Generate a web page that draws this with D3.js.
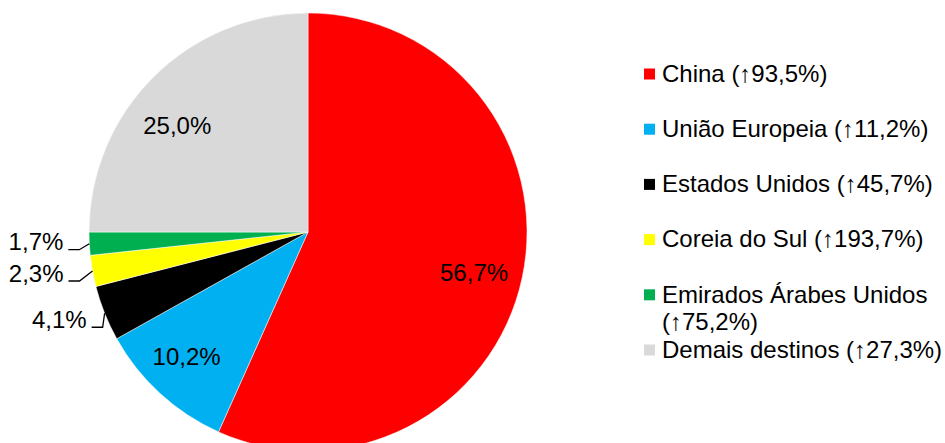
<!DOCTYPE html>
<html>
<head>
<meta charset="utf-8">
<script src="https://cdn.jsdelivr.net/npm/d3@7"></script>
<style>
  html, body { margin: 0; padding: 0; background: #fff; }
  svg { display: block; }
  text { font-family: "Liberation Sans", Arial, sans-serif; fill: #000; }
</style>
</head>
<body>
<svg id="chart" width="945" height="443"></svg>
<script>
// ---- data ----
const categories = ["China", "União Europeia", "Estados Unidos", "Coreia do Sul", "Emirados Árabes Unidos", "Demais destinos"];
const shares = [56.7, 10.2, 4.1, 2.3, 1.7, 25.0];
const shareLabels = ["56,7%", "10,2%", "4,1%", "2,3%", "1,7%", "25,0%"];
const growthLabels = ["↑93,5%", "↑11,2%", "↑45,7%", "↑193,7%", "↑75,2%", "↑27,3%"];
const colors = ["#FF0000", "#00B0F0", "#000000", "#FFFF00", "#00B050", "#D9D9D9"];

// ---- layout ----
const W = 945, H = 443;
const cx = 308, cy = 232, R = 219;
const fontSize = 24;
const labelLayout = [
  { type: "in", k: 0.78, dx: -1, dy: 5 },
  { type: "in", k: 0.78, dx: -6, dy: -1 },
  { type: "out", tx: -18, ty: 6 },
  { type: "out", tx: -29, ty: 2 },
  { type: "out", tx: -26, ty: -2 },
  { type: "in", k: 0.78, dx: -10, dy: 14 }
];

const svg = d3.select("#chart");
const g = svg.append("g").attr("transform", `translate(${cx},${cy})`);

const data = categories.map((c, i) => ({ name: c, value: shares[i], label: shareLabels[i], growth: growthLabels[i], color: colors[i], i }));

const pie = d3.pie().sort(null).value(d => d.value).startAngle(0).endAngle(2 * Math.PI);
const arcs = pie(data);
const arc = d3.arc().innerRadius(0).outerRadius(R);

g.selectAll("path.slice").data(arcs).enter().append("path")
  .attr("class", "slice")
  .attr("d", arc)
  .attr("fill", d => d.data.color)
  .attr("stroke", "#fff")
  .attr("stroke-width", 0.5);

arcs.forEach((a, i) => {
  const L = labelLayout[i];
  const mid = (a.startAngle + a.endAngle) / 2;
  if (L.type === "in") {
    const r = R * L.k;
    const x = r * Math.sin(mid) + L.dx;
    const y = -r * Math.cos(mid) + L.dy;
    g.append("text")
      .attr("x", x).attr("y", y)
      .attr("text-anchor", "middle")
      .attr("dominant-baseline", "central")
      .style("font-size", fontSize + "px")
      .text(a.data.label);
  } else {
    const ex = R * Math.sin(mid), ey = -R * Math.cos(mid);
    const tEnd = ex + L.tx;
    const ty = ey + L.ty;
    g.append("text")
      .attr("x", tEnd).attr("y", ty)
      .attr("text-anchor", "end")
      .attr("dominant-baseline", "central")
      .style("font-size", fontSize + "px")
      .text(a.data.label);
    const lineY = ty + 8;
    const pts = [[tEnd + 5, lineY], [tEnd + 16, lineY], [ex, ey]];
    g.append("polyline")
      .attr("points", pts.map(p => p.join(",")).join(" "))
      .attr("fill", "none")
      .attr("stroke", "#000")
      .attr("stroke-width", 1.3);
  }
});

// legend
const legX = 644, legTextX = 662, legY0 = 73, legStep = 55.2, sq = 11, lineH = 27, maxW = 300;
const leg = svg.append("g");
data.forEach((d, i) => {
  const y = legY0 + i * legStep;
  leg.append("rect")
    .attr("x", legX).attr("y", y - sq / 2 + 1)
    .attr("width", sq).attr("height", sq)
    .attr("fill", d.color);
  const full = `${d.name} (${d.growth})`;
  const t = leg.append("text")
    .attr("x", legTextX).attr("y", y)
    .attr("dominant-baseline", "central")
    .style("font-size", fontSize + "px")
    .text(full);
  if (t.node().getComputedTextLength() > maxW) {
    t.text(null);
    t.append("tspan").attr("x", legTextX).attr("y", y).text(d.name);
    t.append("tspan").attr("x", legTextX).attr("y", y + lineH).text(`(${d.growth})`);
  }
});
</script>
</body>
</html>
